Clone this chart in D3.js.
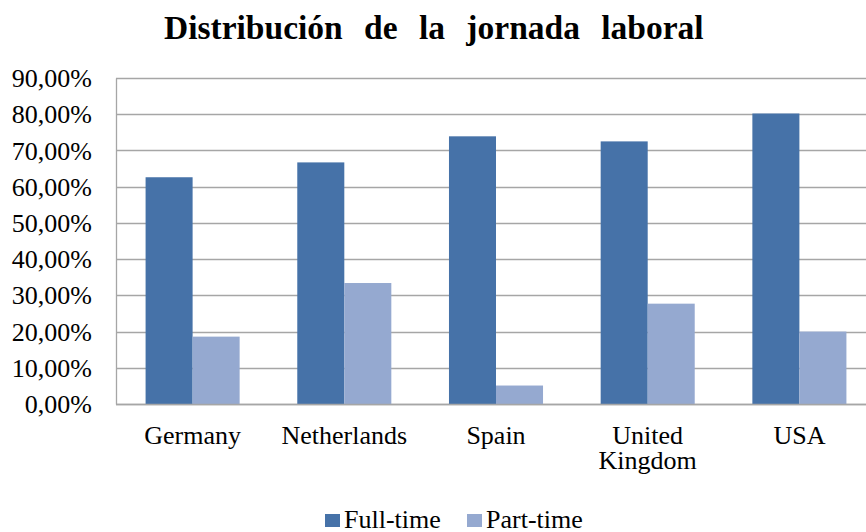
<!DOCTYPE html>
<html>
<head>
<meta charset="utf-8">
<script src="https://cdn.jsdelivr.net/npm/d3@7"></script>
<style>
  body { margin: 0; background: #fff; }
  text { font-family: "Liberation Serif", "Times New Roman", serif; fill: #000; }
</style>
</head>
<body>
<div id="chart"></div>
<script>
// chart values
let categories = ["Germany", "Netherlands", "Spain", "United Kingdom", "USA"];
let seriesNames = ["Full-time", "Part-time"];
let fullTime = [62.6, 66.7, 73.9, 72.5, 80.2];
let partTime = [18.6, 33.4, 5.1, 27.7, 20.0];
let yTicks = [0, 10, 20, 30, 40, 50, 60, 70, 80, 90];
let title = "Distribución de la jornada laboral";

let width = 866, height = 532;
let margin = { top: 78, right: -10, bottom: 128, left: 116 };
let plotW = width - margin.left - margin.right,
    plotH = height - margin.top - margin.bottom;

let colors = ["#4672a8", "#95a9d0"];

let svg = d3.select("#chart")
  .append("svg")
    .attr("width", width)
    .attr("height", height);

// title
svg.append("text")
  .attr("x", 164)
  .attr("y", 39)
  .style("font-size", "33.5px")
  .style("font-weight", "bold")
  .style("word-spacing", "13px")
  .text(title);

let g = svg.append("g")
  .attr("transform", "translate(" + margin.left + "," + margin.top + ")");

let yScale = d3.scaleLinear()
  .domain([0, 90])
  .range([plotH, 0]);

let x0 = d3.scaleBand()
  .domain(categories)
  .range([0, plotW])
  .paddingInner(0.38)
  .paddingOuter(0.195);

let x1 = d3.scaleBand()
  .domain(seriesNames)
  .range([0, x0.bandwidth()]);

let locale = d3.formatLocale({ decimal: ",", thousands: ".", grouping: [3], currency: ["", "€"] });
let fmt = locale.format(".2f");

// gridlines
g.append("g")
  .selectAll("line")
  .data(yTicks)
  .enter()
  .append("line")
    .attr("x1", 0)
    .attr("x2", plotW)
    .attr("y1", d => Math.round(yScale(d)) + 0.5)
    .attr("y2", d => Math.round(yScale(d)) + 0.5)
    .style("stroke", "#a6a6a6")
    .style("stroke-width", 1.3);

// y axis
let yAxis = g.append("g")
  .call(d3.axisLeft(yScale)
        .tickValues(yTicks)
        .tickSize(0)
        .tickPadding(24)
        .tickFormat(d => fmt(d) + "%"));
yAxis.select(".domain").style("stroke", "#a6a6a6").style("stroke-width", 1.3);
yAxis.selectAll("text")
  .style("font-size", "26px")
  .attr("dy", "0.33em");

// bars
let rows = categories.map((c, i) => ({ cat: c, values: [fullTime[i], partTime[i]] }));

let groups = g.append("g")
  .selectAll("g")
  .data(rows)
  .enter()
  .append("g")
    .attr("transform", d => "translate(" + x0(d.cat) + ",0)");

groups.selectAll("rect")
  .data(d => d.values.map((v, j) => ({ name: seriesNames[j], value: v, idx: j })))
  .enter()
  .append("rect")
    .attr("x", d => x1(d.name))
    .attr("y", d => yScale(d.value))
    .attr("width", x1.bandwidth())
    .attr("height", d => plotH - yScale(d.value))
    .style("fill", d => colors[d.idx]);

// x axis
let xAxis = g.append("g")
  .attr("transform", "translate(0," + plotH + ")")
  .call(d3.axisBottom(x0).tickSize(0).tickPadding(0));
xAxis.select(".domain").remove();
g.append("line")
  .attr("x1", 0).attr("x2", plotW)
  .attr("y1", plotH + 0.5).attr("y2", plotH + 0.5)
  .style("stroke", "#a6a6a6")
  .style("stroke-width", 1.3);

// category labels, wrapped on spaces
xAxis.selectAll("text")
  .style("font-size", "26px")
  .each(function(d) {
    let t = d3.select(this);
    let words = d.split(" ");
    t.text(null).attr("y", 0).attr("dy", null);
    words.forEach((w, i) => {
      t.append("tspan")
        .attr("x", 0)
        .attr("y", 40 + i * 24.5)
        .text(w);
    });
  });

// legend
let legend = svg.append("g");
let legendX = [325, 467];
seriesNames.forEach((name, i) => {
  legend.append("rect")
    .attr("x", legendX[i])
    .attr("y", 514)
    .attr("width", 15)
    .attr("height", 13)
    .style("fill", colors[i]);
  legend.append("text")
    .attr("x", legendX[i] + 19)
    .attr("y", 528)
    .style("font-size", "26px")
    .text(name);
});
</script>
</body>
</html>
